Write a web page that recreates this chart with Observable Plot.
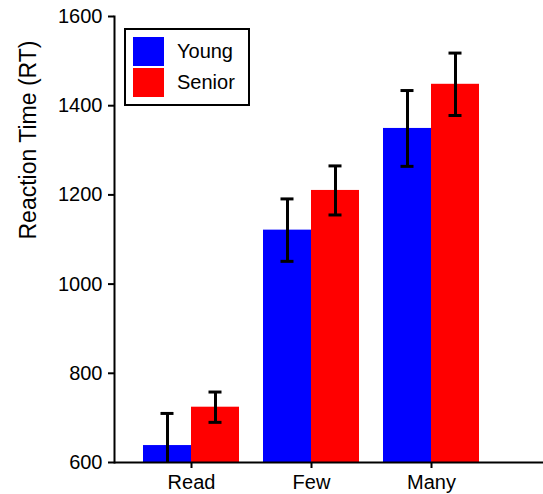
<!DOCTYPE html>
<html>
<head>
<meta charset="utf-8">
<script src="https://cdn.jsdelivr.net/npm/d3@7"></script>
<script src="https://cdn.jsdelivr.net/npm/@observablehq/plot@0.6"></script>
<style>
  html, body { margin: 0; padding: 0; background: #fff; }
  #wrap { position: relative; width: 543px; height: 494px; overflow: hidden; font-family: "Liberation Sans", Arial, sans-serif; }
  #legend { position: absolute; left: 124px; top: 28px; width: 122px; height: 74px; border: 2px solid #000; background: #fff; }
  .item { position: absolute; left: 7px; display: flex; align-items: center; font-size: 20px; color: #000; }
  .sw { width: 31px; height: 29px; margin-right: 13px; }
</style>
</head>
<body>
<div id="wrap"></div>
<script>
const categories = ["Read", "Few", "Many"];
const seriesNames = ["Young", "Senior"];
const youngMeans = [638, 1121, 1349];
const seniorMeans = [724, 1210, 1448];
const youngErr = [72, 70, 85];
const seniorErr = [34, 55, 70];
const yTicks = [600, 800, 1000, 1200, 1400, 1600];
const colors = ["#0000ff", "#ff0000"];
const yLabel = "Reaction Time (RT)";

const young = categories.map((c, i) => ({cat: c, series: "Young", value: youngMeans[i], err: youngErr[i]}));
const senior = categories.map((c, i) => ({cat: c, series: "Senior", value: seniorMeans[i], err: seniorErr[i]}));

const capL = {insetLeft: 17.5, insetRight: 65.5};
const capR = {insetLeft: 65.5, insetRight: 17.5};
const errStyle = {stroke: "#000", strokeWidth: 3, clip: true};

const chart = Plot.plot({
  width: 543,
  height: 494,
  marginLeft: 114,
  marginRight: 0,
  marginTop: 16,
  marginBottom: 32,
  style: {fontFamily: "Liberation Sans, Arial, sans-serif", fontSize: "20px", color: "#000", background: "#fff"},
  x: {domain: categories, range: [118.5, 503.5], padding: 0.2, label: null},
  y: {domain: [600, 1600], label: null},
  color: {domain: seriesNames, range: colors},
  marks: [
    Plot.barY(young, {x: "cat", y: "value", fill: "series", insetRight: 48, clip: true}),
    Plot.barY(senior, {x: "cat", y: "value", fill: "series", insetLeft: 48, clip: true}),
    Plot.ruleX(young, {x: "cat", y1: d => d.value - d.err, y2: d => d.value + d.err, dx: -24, ...errStyle}),
    Plot.ruleX(senior, {x: "cat", y1: d => d.value - d.err, y2: d => d.value + d.err, dx: 24, ...errStyle}),
    Plot.tickY(young, {x: "cat", y: d => d.value + d.err, ...capL, ...errStyle}),
    Plot.tickY(young, {x: "cat", y: d => d.value - d.err, ...capL, ...errStyle}),
    Plot.tickY(senior, {x: "cat", y: d => d.value + d.err, ...capR, ...errStyle}),
    Plot.tickY(senior, {x: "cat", y: d => d.value - d.err, ...capR, ...errStyle}),
    Plot.frame({anchor: "left", stroke: "#000", strokeWidth: 2}),
    Plot.ruleY([600], {stroke: "#000", strokeWidth: 2}),
    Plot.axisY({ticks: yTicks, tickFormat: d3.format("d"), tickSize: 6, tickPadding: 6, strokeWidth: 2, label: null, fontSize: 20}),
    Plot.axisX({tickSize: 6, tickPadding: 6, strokeWidth: 2, label: null, fontSize: 20}),
    Plot.text([yLabel], {frameAnchor: "left", rotate: -90, dx: -86, fontSize: 23, fill: "#000"})
  ]
});

const wrap = document.getElementById("wrap");
wrap.appendChild(chart);

const legend = document.createElement("div");
legend.id = "legend";
seriesNames.forEach((name, i) => {
  const item = document.createElement("div");
  item.className = "item";
  item.style.top = (i === 0 ? 7 : 38) + "px";
  const sw = document.createElement("div");
  sw.className = "sw";
  sw.style.background = colors[i];
  item.appendChild(sw);
  const t = document.createElement("span");
  t.textContent = name;
  item.appendChild(t);
  legend.appendChild(item);
});
wrap.appendChild(legend);
</script>
</body>
</html>
